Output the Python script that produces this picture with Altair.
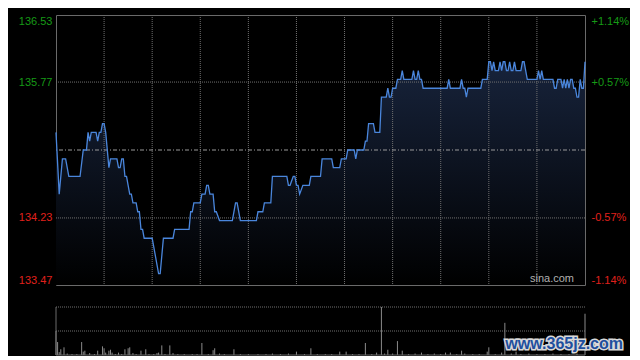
import altair as alt
import pandas as pd

# ---- data (minutes since 09:30, HKD) ----
minutes = [0, 2, 4, 6, 8, 15, 17, 19, 20, 21, 22, 25, 26, 27, 28, 29, 30, 31, 33, 34,
           38, 39, 40, 41, 42, 43, 44, 45, 46, 47, 48, 50, 51, 52, 53, 54, 55, 60, 64, 65,
           67, 73, 74, 83, 84, 85, 86, 90, 91, 93, 94, 95, 96, 98, 99, 100, 102, 110, 112, 113,
           115, 125, 126, 129, 130, 134, 135, 144, 145, 146, 148, 149, 150, 151, 152, 154, 158, 159, 165, 166,
           172, 173, 177, 178, 181, 182, 186, 187, 188, 192, 193, 194, 195, 198, 199, 202, 203, 206, 207, 208,
           209, 210, 212, 213, 215, 216, 217, 222, 223, 224, 225, 226, 227, 228, 229, 244, 245, 246, 252, 253,
           254, 255, 256, 257, 265, 266, 269, 270, 271, 272, 273, 274, 276, 277, 278, 279, 280, 281, 282, 283,
           284, 285, 286, 287, 290, 291, 292, 293, 294, 300, 301, 302, 303, 304, 310, 311, 312, 313, 315, 316,
           317, 318, 319, 320, 321, 322, 323, 324, 325, 326, 327, 328, 329, 330]
prices = [135.2, 134.5, 134.9, 134.9, 134.7, 134.7, 135.0, 135.0, 135.2, 135.1, 135.2, 135.2, 135.1, 135.2, 135.2, 135.3, 135.3, 135.2, 134.8, 134.9,
          134.9, 134.8, 134.8, 134.9, 134.9, 134.7, 134.7, 134.6, 134.5, 134.5, 134.4, 134.4, 134.3, 134.3, 134.1, 134.1, 134.0, 134.0, 133.6, 133.6,
          134.0, 134.0, 134.1, 134.1, 134.3, 134.3, 134.4, 134.4, 134.5, 134.5, 134.6, 134.6, 134.5, 134.5, 134.3, 134.3, 134.2, 134.2, 134.4, 134.4,
          134.2, 134.2, 134.3, 134.3, 134.4, 134.4, 134.7, 134.7, 134.6, 134.6, 134.7, 134.7, 134.6, 134.6, 134.5, 134.6, 134.6, 134.7, 134.7, 134.9,
          134.9, 134.8, 134.8, 134.9, 134.9, 135.0, 135.0, 134.9, 135.0, 135.0, 135.1, 135.1, 135.3, 135.3, 135.2, 135.2, 135.6, 135.6, 135.7, 135.6,
          135.6, 135.7, 135.7, 135.8, 135.8, 135.9, 135.8, 135.8, 135.9, 135.8, 135.8, 135.9, 135.8, 135.8, 135.7, 135.7, 135.8, 135.7, 135.7, 135.8,
          135.7, 135.7, 135.6, 135.7, 135.7, 135.8, 135.8, 136.0, 136.0, 135.9, 136.0, 135.9, 135.9, 136.0, 135.9, 136.0, 136.0, 135.9, 135.9, 136.0,
          135.9, 135.9, 136.0, 135.9, 135.9, 136.0, 136.0, 135.9, 135.8, 135.8, 135.9, 135.8, 135.9, 135.8, 135.8, 135.7, 135.7, 135.8, 135.8, 135.7,
          135.8, 135.7, 135.8, 135.7, 135.8, 135.8, 135.7, 135.7, 135.6, 135.6, 135.8, 135.7, 135.7, 136.0]

vol_minutes = [0, 1, 2, 3, 5, 7, 10, 13, 16, 17, 18, 21, 24, 26, 29, 30, 31, 33, 34, 35,
               37, 39, 41, 43, 45, 46, 48, 50, 53, 56, 58, 61, 63, 64, 66, 68, 71, 73, 76, 80,
               85, 88, 91, 95, 98, 99, 102, 105, 111, 115, 120, 126, 131, 135, 140, 145, 150, 155, 159, 163,
               168, 172, 177, 181, 185, 189, 193, 197, 200, 203, 205, 207, 210, 213, 216, 220, 224, 228, 232, 236,
               240, 243, 246, 250, 253, 255, 260, 264, 269, 270, 274, 278, 280, 284, 287, 290, 295, 300, 305, 310,
               315, 320, 325, 330]
volumes = [50, 27, 6, 12, 16, 3, 2, 2, 27, 7, 9, 4, 2, 9, 18, 14, 5, 9, 11, 5,
           2, 5, 2, 12, 14, 16, 4, 2, 9, 12, 2, 2, 4, 5, 20, 2, 20, 4, 2, 2,
           2, 2, 25, 2, 10, 14, 3, 2, 12, 2, 2, 2, 2, 3, 2, 3, 7, 2, 14, 2,
           2, 2, 7, 7, 2, 2, 25, 2, 5, 100, 3, 11, 3, 29, 9, 2, 3, 5, 2, 3,
           2, 5, 5, 2, 9, 3, 2, 2, 7, 16, 2, 5, 67, 3, 7, 2, 3, 2, 2, 3,
           2, 2, 3, 86]

left_ticks = [136.53, 135.77, 134.23, 133.47]
right_labels = ["+1.14%", "+0.57%", "-0.57%", "-1.14%"]
inner_levels = [135.77, 134.23]
prev_close = [135.00]
grid_minutes = [30, 60, 90, 120, 150, 180, 210, 240, 270, 300]
vol_grid = [50, 100]
session = [0, 330]

price_df = pd.DataFrame({"t": minutes, "price": prices})
vol_df = pd.DataFrame({"t": vol_minutes, "vol": volumes})

GREEN = "#169a16"
RED = "#e0201c"
LINE = "#4a86dc"
GRID = "#707070"
BORDER = "#6a6a6a"
FONT = "Liberation Sans"

W, H, VH = 529, 270, 48

x_scale = alt.Scale(domain=session, nice=False, zero=False)
y_scale = alt.Scale(domain=[left_ticks[-1], left_ticks[0]], nice=False, zero=False)
v_scale = alt.Scale(domain=[0, vol_grid[-1]], nice=False, zero=True)

label_color = {"condition": {"test": f"datum.value > {prev_close[0]}", "value": GREEN}, "value": RED}

expr = " : ".join(
    f"abs(datum.value - {v}) < 0.01 ? '{lab}'" for v, lab in zip(left_ticks, right_labels)
) + " : ''"

left_axis = alt.Axis(values=left_ticks, labelColor=label_color, labelFont=FONT, labelFontSize=11,
                     labelFlush=True, ticks=False, domain=False, grid=False, labelPadding=4,
                     title=None, format=".2f")
right_axis = alt.Axis(orient="right", values=left_ticks, labelExpr=expr, labelColor=label_color,
                      labelFont=FONT, labelFontSize=11, labelFlush=True, ticks=False, domain=False,
                      grid=False, labelPadding=6, title=None)

xenc = alt.X("t:Q", scale=x_scale, axis=None)

gradient = alt.Gradient(
    gradient="linear",
    stops=[alt.GradientStop(color="#17233b", offset=0),
           alt.GradientStop(color="#000000", offset=1)],
    x1=1, x2=1, y1=0, y2=1,
)

area = alt.Chart(price_df).mark_area(color=gradient).encode(
    x=xenc,
    y=alt.Y("price:Q", scale=y_scale, axis=left_axis),
    y2=alt.datum(left_ticks[-1]),
)

vgrid = alt.Chart(pd.DataFrame({"t": grid_minutes})).mark_rule(
    color=GRID, strokeDash=[1, 1], strokeWidth=1
).encode(x=xenc)

hgrid = alt.Chart(pd.DataFrame({"p": inner_levels})).mark_rule(
    color=GRID, strokeDash=[1, 1], strokeWidth=1
).encode(y=alt.Y("p:Q", scale=y_scale, axis=None))

prev = alt.Chart(pd.DataFrame({"p": prev_close})).mark_rule(
    color="#9a9a9a", strokeDash=[4, 2, 1, 2], strokeWidth=1
).encode(y=alt.Y("p:Q", scale=y_scale, axis=None))

line = alt.Chart(price_df).mark_line(color=LINE, strokeWidth=1.3).encode(
    x=xenc,
    y=alt.Y("price:Q", scale=y_scale, axis=None),
)

sina = alt.Chart(pd.DataFrame({"s": ["sina.com"]})).mark_text(
    color="#b0b0b0", font=FONT, fontSize=11, align="right", baseline="middle"
).encode(text="s:N", x=alt.value(W - 11), y=alt.value(H - 6))

right = alt.Chart(price_df).mark_line(opacity=0).encode(
    x=xenc,
    y=alt.Y("price:Q", scale=y_scale, axis=right_axis),
)

main = alt.layer(area, vgrid, hgrid, prev, line, sina, right).resolve_scale(
    y="independent"
).properties(width=W, height=H)

bars = alt.Chart(vol_df).mark_rule(color="#8a8a8a", strokeWidth=1).encode(
    x=xenc,
    y=alt.Y("vol:Q", scale=v_scale, axis=None),
    y2=alt.datum(0),
)
vlines = alt.Chart(pd.DataFrame({"v": vol_grid})).mark_rule(
    color=GRID, strokeDash=[1, 1], strokeWidth=1
).encode(y=alt.Y("v:Q", scale=v_scale, axis=None))
vleft = alt.Chart(pd.DataFrame({"t": [session[0]]})).mark_rule(color=BORDER).encode(x=xenc)
vbottom = alt.Chart(pd.DataFrame({"v": [0]})).mark_rule(color=BORDER).encode(
    y=alt.Y("v:Q", scale=v_scale, axis=None))

wm_df = pd.DataFrame({"s": ["www.365jz.com"]})
wm_back = alt.Chart(wm_df).mark_text(
    font=FONT, fontSize=16, fontWeight="bold", color="#d8d8d8", stroke="#d8d8d8",
    strokeWidth=3, align="right", baseline="middle"
).encode(text="s:N", x=alt.value(W + 38), y=alt.value(37))
wm_front = alt.Chart(wm_df).mark_text(
    font=FONT, fontSize=16, fontWeight="bold", color="#1f4f9e", align="right", baseline="middle"
).encode(text="s:N", x=alt.value(W + 38), y=alt.value(37))

volume = alt.layer(vlines, bars, vleft, vbottom, wm_back, wm_front).properties(
    width=W, height=VH, view=alt.ViewBackground(strokeOpacity=0)
)

chart = alt.vconcat(main, volume, spacing=20).configure(
    background="#000000",
    padding={"left": 9, "top": 6, "right": 0, "bottom": 0},
).configure_view(stroke=BORDER, strokeWidth=1)

chart.save("out.html", embed_options={"renderer": "svg", "actions": False})
